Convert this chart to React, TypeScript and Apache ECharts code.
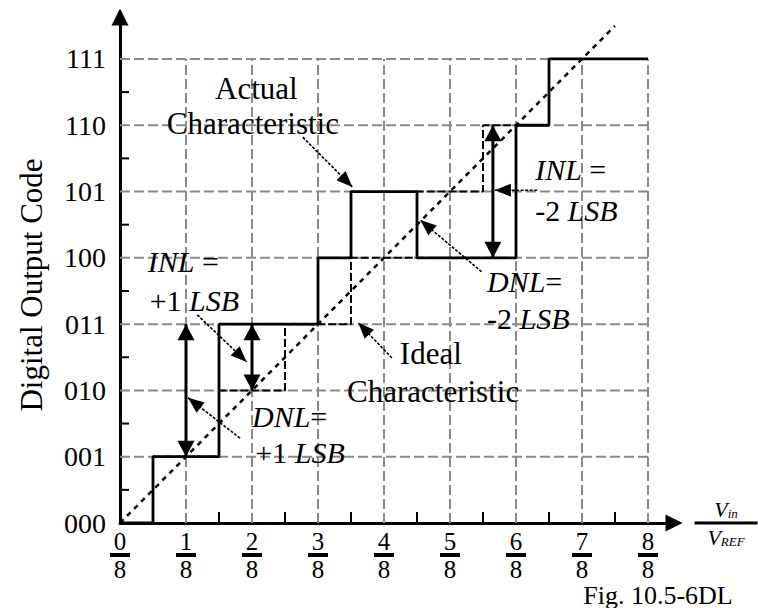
import React, { useEffect, useRef } from 'react';
import * as echarts from 'echarts';

// ---- data ----
const codeLabels = ['000', '001', '010', '011', '100', '101', '110', '111'];
const xTickLabels = ['0/8', '1/8', '2/8', '3/8', '4/8', '5/8', '6/8', '7/8', '8/8'];
// actual characteristic: code transitions (x in units of VREF/8)
const actualEdges = [0, 0.5, 1.5, 3, 3.5, 4.5, 6, 6.5, 8];
const actualCodes = [0, 1, 3, 4, 5, 4, 6, 7];
// ideal characteristic
const idealEdges = [0, 0.5, 1.5, 2.5, 3.5, 4.5, 5.5, 6.5, 8];
const idealCodes = [0, 1, 2, 3, 4, 5, 6, 7];
const idealLineX = [0, 7.5];
const idealLineY = [0, 7.5];
const gridX = [1, 2, 3, 4, 5, 6, 7, 8];
const gridY = [1, 2, 3, 4, 5, 6, 7];
const halfTicksX = [0.5, 1.5, 2.5, 3.5, 4.5, 5.5, 6.5, 7.5];
const halfTicksY = [0.5, 1.5, 2.5, 3.5, 4.5, 5.5, 6.5];
// error double arrows: x, code from, code to
const errorArrows = [
  [1, 1, 3],
  [2, 2, 3],
  [5.65, 4, 6],
];
// leader arrows: from -> tip (data units)
const leaderFrom = [[2.77, 5.82], [4.12, 2.49], [1.17, 3.14], [1.82, 1.28], [6.32, 5.02], [5.48, 3.79]];
const leaderTip = [[3.52, 5.07], [3.61, 3.02], [1.92, 2.43], [1.03, 1.89], [5.68, 5.02], [4.55, 4.57]];
// annotation texts and anchors (left, middle)
const noteTexts = [
  '{u|Actual}',
  '{u|Characteristic}',
  '{u|Ideal}',
  '{u|Characteristic}',
  '{i|INL} {s|=}',
  '{s|+1 }{i|LSB}',
  '{i|DNL}{s|=}',
  '{s|+1 }{i|LSB}',
  '{i|INL} {s|=}',
  '{s|-2 }{i|LSB}',
  '{i|DNL}{s|=}',
  '{s|-2 }{i|LSB}',
];
const noteAt = [
  [1.44, 6.56], [0.71, 6.03], [4.24, 2.55], [3.44, 1.99],
  [0.42, 3.94], [0.45, 3.35], [2.0, 1.6], [2.05, 1.06],
  [6.29, 5.33], [6.29, 4.72], [5.56, 3.64], [5.56, 3.08],
];

const SERIF = '"Liberation Serif", "Times New Roman", serif';

function stepPoints(edges: number[], codes: number[]) {
  const pts: number[][] = [];
  for (let i = 0; i < codes.length; i++) {
    pts.push([edges[i], codes[i]]);
    pts.push([edges[i + 1], codes[i]]);
  }
  return pts;
}

function head(tip: number[], from: number[], len: number, width: number) {
  const dx = tip[0] - from[0];
  const dy = tip[1] - from[1];
  const d = Math.hypot(dx, dy) || 1;
  const ux = dx / d, uy = dy / d;
  const bx = tip[0] - ux * len, by = tip[1] - uy * len;
  const px = -uy * width / 2, py = ux * width / 2;
  return {
    type: 'polygon',
    shape: { points: [[tip[0], tip[1]], [bx + px, by + py], [bx - px, by - py]] },
    style: { fill: '#000' },
  };
}

function seg(a: number[], b: number[], style: any) {
  return { type: 'line', shape: { x1: a[0], y1: a[1], x2: b[0], y2: b[1] }, style };
}

export default function App() {
  const ref = useRef<HTMLDivElement>(null);
  useEffect(() => {
    document.body.style.margin = '0';
    const chart = echarts.init(ref.current!, undefined, { renderer: 'svg' });

    const gridStyle = { stroke: '#8a8a8a', lineWidth: 2, lineDash: [10, 4] };
    const tickStyle = { stroke: '#000', lineWidth: 2 };

    const option: any = {
      animation: false,
      backgroundColor: '#fff',
      grid: { left: 120, right: 84, top: 17, bottom: 85, containLabel: false, outerBoundsMode: 'none' },
      xAxis: {
        type: 'value',
        min: 0,
        max: 8.394,
        interval: 1,
        axisLine: {
          show: true,
          onZero: false,
          symbol: ['none', 'triangle'],
          symbolSize: [17, 17],
          lineStyle: { color: '#000', width: 3 },
        },
        axisTick: { show: false },
        splitLine: { show: false },
        axisLabel: {
          margin: 8,
          color: '#000',
          showMaxLabel: true,
          formatter: (v: number) => {
            if (!Number.isInteger(v) || v > 8) return '';
            const [n, d] = xTickLabels[v].split('/');
            return `{n|${n}}\n{bar|}\n{n|${d}}`;
          },
          rich: {
            n: { fontSize: 25, fontFamily: SERIF, lineHeight: 20, color: '#000', align: 'center' },
            bar: { width: 20, height: 4, lineHeight: 8, backgroundColor: '#000', align: 'center' },
          },
        },
        name: '{v|V}{s|in}\n{bar|}\n{v|V}{s|REF}',
        nameLocation: 'end',
        nameGap: 52,
        nameTextStyle: {
          align: 'center',
          verticalAlign: 'middle',
          rich: {
            v: { fontSize: 22, fontFamily: SERIF, fontStyle: 'italic', color: '#000', lineHeight: 22, align: 'center' },
            s: { fontSize: 13, fontFamily: SERIF, fontStyle: 'italic', color: '#000', lineHeight: 22, verticalAlign: 'bottom', align: 'center' },
            bar: { width: 63, height: 3, lineHeight: 6, backgroundColor: '#000', align: 'center' },
          },
        },
      },
      yAxis: {
        type: 'value',
        min: 0,
        max: 7.633,
        interval: 1,
        axisLine: {
          show: true,
          onZero: false,
          symbol: ['none', 'triangle'],
          symbolSize: [17, 17],
          lineStyle: { color: '#000', width: 3 },
        },
        axisTick: { show: false },
        splitLine: { show: false },
        axisLabel: {
          margin: 14,
          color: '#000',
          fontSize: 28,
          fontFamily: SERIF,
          formatter: (v: number) => (Number.isInteger(v) && v <= 7 ? codeLabels[v] : ''),
        },
      },
      graphic: [
        {
          type: 'text',
          x: 31,
          y: 285,
          rotation: Math.PI / 2,
          style: {
            text: 'Digital Output Code',
            fontSize: 31,
            fontFamily: SERIF,
            fill: '#000',
            align: 'center',
            verticalAlign: 'middle',
          },
        },
        {
          type: 'text',
          x: 658,
          y: 595,
          style: {
            text: 'Fig. 10.5-6DL',
            fontSize: 26,
            lineHeight: 24,
            fontFamily: SERIF,
            fill: '#000',
            align: 'center',
            verticalAlign: 'middle',
          },
        },
      ],
      series: [
        {
          type: 'custom',
          name: 'grid',
          z: 1,
          silent: true,
          data: [[0, 0]],
          encode: { x: 0, y: 1 },
          renderItem: (_p: any, api: any) => {
            const children: any[] = [];
            gridX.forEach((x) => children.push(seg(api.coord([x, 0]), api.coord([x, 7]), gridStyle)));
            gridY.forEach((y) => children.push(seg(api.coord([0, y]), api.coord([8, y]), gridStyle)));
            halfTicksX.forEach((x) => {
              const p = api.coord([x, 0]);
              children.push(seg(p, [p[0], p[1] - 11], tickStyle));
            });
            halfTicksY.forEach((y) => {
              const p = api.coord([0, y]);
              children.push(seg(p, [p[0] + 9, p[1]], tickStyle));
            });
            return { type: 'group', children };
          },
        },
        {
          type: 'line',
          name: 'Ideal line',
          z: 2,
          data: idealLineX.map((x, i) => [x, idealLineY[i]]),
          symbol: 'none',
          lineStyle: { color: '#000', width: 2.5, type: [5, 5] },
          silent: true,
        },
        {
          type: 'line',
          name: 'Ideal Characteristic',
          z: 3,
          data: stepPoints(idealEdges, idealCodes),
          symbol: 'none',
          lineStyle: { color: '#000', width: 2, type: [8, 3] },
          silent: true,
        },
        {
          type: 'line',
          name: 'Actual Characteristic',
          z: 4,
          data: stepPoints(actualEdges, actualCodes),
          symbol: 'none',
          lineStyle: { color: '#000', width: 2.8 },
          silent: true,
        },
        {
          type: 'custom',
          name: 'notes',
          z: 6,
          silent: true,
          data: [[0, 0]],
          encode: { x: 0, y: 1 },
          renderItem: (_p: any, api: any) => {
            const children: any[] = [];
            errorArrows.forEach(([x, a, b]) => {
              const p1 = api.coord([x, a]);
              const p2 = api.coord([x, b]);
              children.push(seg(p1, p2, { stroke: '#000', lineWidth: 3 }));
              children.push(head(p1, p2, 16, 17));
              children.push(head(p2, p1, 16, 17));
            });
            leaderFrom.forEach((f, i) => {
              const a = api.coord(f);
              const b = api.coord(leaderTip[i]);
              children.push(seg(a, b, { stroke: '#000', lineWidth: 1.6, lineDash: [3, 1.5] }));
              children.push(head(b, a, 16, 13));
            });
            const rich = {
              u: { fontSize: 31, fontFamily: SERIF, fill: '#000' },
              s: { fontSize: 30, fontFamily: SERIF, fill: '#000' },
              i: { fontSize: 30, fontFamily: SERIF, fontStyle: 'italic', fill: '#000' },
            };
            noteTexts.forEach((t, i) => {
              const p = api.coord(noteAt[i]);
              children.push({
                type: 'text',
                x: p[0],
                y: p[1],
                style: {
                  text: t,
                  fontSize: 30,
                  fontFamily: SERIF,
                  fill: '#000',
                  align: 'left',
                  verticalAlign: 'middle',
                  rich,
                },
              });
            });
            return { type: 'group', children };
          },
        },
      ],
    };
    chart.setOption(option);
    return () => chart.dispose();
  }, []);
  return <div ref={ref} style={{ width: 758, height: 608 }} />;
}
